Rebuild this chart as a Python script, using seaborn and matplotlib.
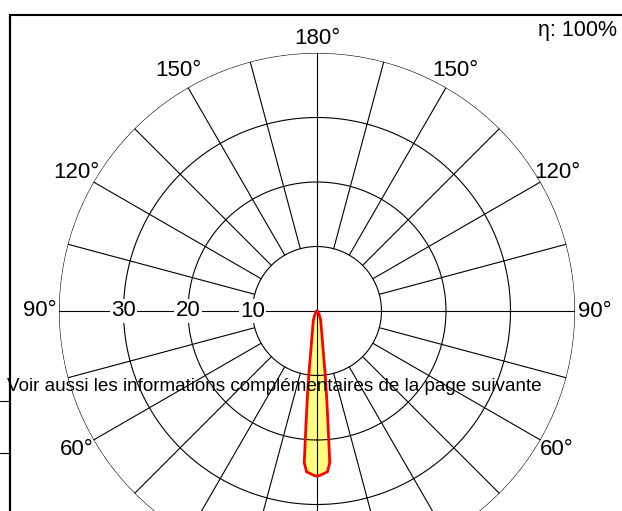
import numpy as np
import matplotlib
matplotlib.use("Agg")
import matplotlib.pyplot as plt
import seaborn as sns
from matplotlib.lines import Line2D

# luminous intensity (cd/klm) vs angle from nadir
gamma_deg = [0, 1, 2.5, 3.7, 4.8, 5.6, 6.5, 7.4, 9, 12, 16, 22, 30, 45, 60, 90]
intensity = [25.6, 25.5, 25.2, 25.0, 23.6, 17.4, 13.0, 9.7, 6.0, 3.6, 2.3, 1.5, 0.7, 0.2, 0.05, 0.0]

ring_values = [10, 20, 30, 40]
ring_labels = ["10", "20", "30"]
angle_labels = [180, 150, 120, 90, 60]
note = "Voir aussi les informations complémentaires de la page suivante"
eta_text = "η: 100%"

sns.set_style("white")
plt.rcParams['font.family'] = ['Liberation Sans', 'DejaVu Sans']
plt.rcParams['text.color'] = 'black'

W, H = 622, 511
fig = plt.figure(figsize=(W / 100, H / 100), dpi=100)
fig.patch.set_facecolor("white")

# polar axes, centre at (317, 311) px, radius 258 px
cx, cy, R = 317, 311, 258
ax = fig.add_axes([(cx - R) / W, (H - cy - R) / H, 2 * R / W, 2 * R / H], projection="polar")
ax.set_theta_zero_location("S")
ax.set_rlim(0, 40)
ax.grid(False)
ax.set_xticks([])
ax.set_yticks([])
ax.spines["polar"].set_visible(False)
ax.patch.set_alpha(0)

# curve data (mirrored C0 / C180)
g = np.array(gamma_deg)
I = np.array(intensity)
theta = np.deg2rad(np.concatenate([-g[::-1], g[1:]]))
rr = np.concatenate([I[::-1], I[1:]])

ax.fill(theta, rr, color="#ffff80", zorder=1, lw=0)

# grid
circ = np.linspace(0, 2 * np.pi, 400)
for r in ring_values:
    ax.plot(circ, np.full_like(circ, r), color="black", lw=0.8, zorder=2)
for a in range(0, 360, 15):
    start = 0 if a % 90 == 0 else 10
    t = np.deg2rad(a)
    ax.plot([t, t], [start, 40], color="black", lw=0.8, zorder=2)

sns.lineplot(x=theta, y=rr, sort=False, estimator=None, color="red", lw=2, ax=ax, zorder=3)
ax.set_xlabel("")
ax.set_ylabel("")

# ring labels on the left horizontal
for lab, r in zip(ring_labels, ring_values):
    ax.text(np.deg2rad(-90), r, lab, ha="center", va="center", fontsize=16, zorder=4,
            bbox=dict(facecolor="white", edgecolor="none", pad=1))

# angle labels
for a in angle_labels:
    sides = [a] if a == 180 else [-a, a]
    rad = 42.2 if a == 180 else 43
    for s in sides:
        ax.text(np.deg2rad(s), rad, f"{a}°", ha="center", va="center", fontsize=16,
                clip_on=False, zorder=4)

# frame
tr = fig.transFigure
fig.add_artist(Line2D([10 / W, 1], [1 - 15 / H] * 2, lw=1.5, color="black", transform=tr))
fig.add_artist(Line2D([9.5 / W] * 2, [0, 1 - 15 / H], lw=1.6, color="black", transform=tr))
for yy in [401, 453]:
    fig.add_artist(Line2D([0, 9 / W], [1 - yy / H] * 2, lw=0.8, color="black", transform=tr))

fig.text(617 / W, 1 - 30.5 / H, eta_text, ha="right", va="center", fontsize=15.5)
fig.text(7 / W, 1 - 390.5 / H, note, ha="left", va="baseline", fontsize=13.6)

fig.savefig("out.png", dpi=100)
